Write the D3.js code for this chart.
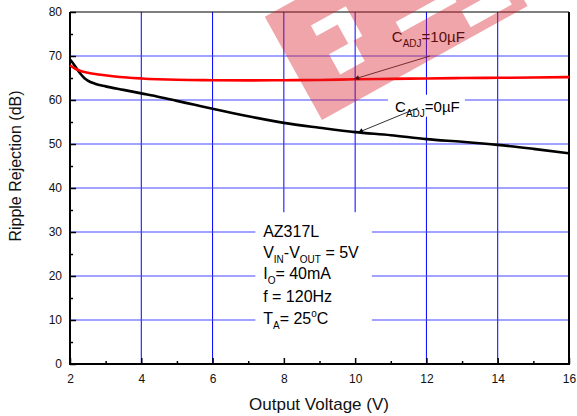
<!DOCTYPE html>
<html><head><meta charset="utf-8">
<script src="https://cdn.jsdelivr.net/npm/d3@7"></script>
<style>
body{margin:0;background:#fff}
svg text{font-family:"Liberation Sans",Arial,Helvetica,sans-serif;white-space:pre}
</style>
</head><body>
<svg id="chart" width="577" height="416"></svg>
<script>
// ---- data ----
const xTickValues = [2, 4, 6, 8, 10, 12, 14, 16];
const xMinorValues = [3, 5, 7, 9, 11, 13, 15];
const yTickValues = [0, 10, 20, 30, 40, 50, 60, 70, 80];
const yMinorValues = [5, 15, 25, 35, 45, 55, 65, 75];

// C_ADJ = 10uF (red)
const vout10 = [2, 2.15, 2.3, 2.5, 2.8, 3.2, 3.6, 4, 5, 6, 7, 8, 9, 10, 11, 12, 13, 14, 15, 16];
const rej10  = [67.9, 67.1, 66.6, 66.2, 65.8, 65.4, 65.1, 64.9, 64.6, 64.5, 64.45, 64.5, 64.55, 64.7, 64.8, 64.9, 65.0, 65.05, 65.1, 65.2];
// C_ADJ = 0uF (black)
const vout0 = [2, 2.1, 2.2, 2.3, 2.4, 2.5, 2.7, 3, 3.5, 4, 4.5, 5, 5.5, 6, 7, 8, 9, 10, 11, 12, 13, 14, 15, 16];
const rej0  = [69.2, 68.2, 67.0, 65.9, 65.0, 64.4, 63.7, 63.1, 62.3, 61.5, 60.7, 59.8, 58.9, 58.0, 56.3, 54.8, 53.7, 52.7, 52.0, 51.1, 50.5, 49.8, 48.9, 47.9];

// ---- layout ----
const L = 70, R = 569, T = 12, B = 364;
const svg = d3.select("#chart");
const x = d3.scaleLinear().domain([2, 16]).range([L, R]);
const y = d3.scaleLinear().domain([0, 80]).range([B, T]);

// grid
const grid = svg.append("g");
grid.selectAll("line.v").data(xTickValues.slice(1, -1)).join("line")
  .attr("x1", d => x(d)).attr("x2", d => x(d)).attr("y1", T).attr("y2", B)
  .attr("stroke", "#0000ff").attr("stroke-width", 1);
grid.selectAll("line.h").data(yTickValues.slice(1, -1)).join("line")
  .attr("x1", L).attr("x2", R).attr("y1", d => y(d)).attr("y2", d => y(d))
  .attr("stroke", "#4646ff").attr("stroke-width", 1.2);

// white boxes behind annotations
function whiteBox(x0, x1, y0, y1) {
  svg.append("rect").attr("x", x(x0)).attr("y", y(y1))
    .attr("width", x(x1) - x(x0)).attr("height", y(y0) - y(y1)).attr("fill", "#fff");
}
whiteBox(7.2, 10.47, -5.3, 34.5);   // info box
whiteBox(10.92, 13.08, 56.2, 61.2); // 0uF label

// axes ticks
const fs = 12;
svg.append("g").attr("transform", `translate(0,${B})`)
  .call(d3.axisBottom(x).tickValues(xTickValues).tickSizeInner(-6).tickSizeOuter(0).tickPadding(10).tickFormat(d3.format("d")));
svg.append("g").attr("transform", `translate(0,${B})`)
  .call(d3.axisBottom(x).tickValues(xMinorValues).tickSizeInner(-3).tickSizeOuter(0).tickFormat(""));
svg.append("g").attr("transform", `translate(${L},0)`)
  .call(d3.axisLeft(y).tickValues(yTickValues).tickSizeInner(-6).tickSizeOuter(0).tickPadding(8).tickFormat(d3.format("d")));
svg.append("g").attr("transform", `translate(${L},0)`)
  .call(d3.axisLeft(y).tickValues(yMinorValues).tickSizeInner(-3).tickSizeOuter(0).tickFormat(""));
svg.selectAll(".domain").remove();
svg.selectAll(".tick line").attr("stroke", "#000").attr("stroke-width", 1.5);
svg.selectAll(".tick text").attr("font-size", fs).attr("fill", "#111")
  .style("font-family", '"Liberation Sans",Arial,sans-serif');

// frame
svg.append("line").attr("x1", L).attr("x2", R).attr("y1", T).attr("y2", T).attr("stroke", "#000").attr("stroke-width", 1);
svg.append("line").attr("x1", R).attr("x2", R).attr("y1", T).attr("y2", B).attr("stroke", "#000").attr("stroke-width", 2);
svg.append("line").attr("x1", L).attr("x2", L).attr("y1", T).attr("y2", B + 1).attr("stroke", "#000").attr("stroke-width", 2);
svg.append("line").attr("x1", L - 1).attr("x2", R + 1).attr("y1", B).attr("y2", B).attr("stroke", "#000").attr("stroke-width", 2);

// curves
const line = d3.line().x(d => x(d[0])).y(d => y(d[1])).curve(d3.curveMonotoneX);
svg.append("path").datum(d3.zip(vout0, rej0)).attr("d", line)
  .attr("fill", "none").attr("stroke", "#000").attr("stroke-width", 2.6);
svg.append("path").datum(d3.zip(vout10, rej10)).attr("d", line)
  .attr("fill", "none").attr("stroke", "#ff0000").attr("stroke-width", 2.6);

// arrows
const defs = svg.append("defs");
defs.append("marker").attr("id", "ah").attr("viewBox", "0 0 10 10").attr("refX", 10).attr("refY", 5)
  .attr("markerWidth", 7).attr("markerHeight", 5).attr("orient", "auto").attr("markerUnits", "userSpaceOnUse")
  .append("path").attr("d", "M0,0 L10,5 L0,10 z").attr("fill", "#000");
function arrow(x0, y0, x1, y1) {
  svg.append("line").attr("x1", x(x0)).attr("y1", y(y0)).attr("x2", x(x1)).attr("y2", y(y1))
    .attr("stroke", "#000").attr("stroke-width", 0.8).attr("marker-end", "url(#ah)");
}
arrow(12.1, 70.0, 9.97, 64.75);
arrow(11.76, 58.2, 10.08, 52.6);

// labels with subscripts
function label(px, py, parts, size) {
  const t = svg.append("text").attr("x", px).attr("y", py).attr("font-size", size).attr("fill", "#000");
  let cur = 0;
  parts.forEach(p => {
    const off = p.sub ? 5 : (p.sup ? -7 : 0);
    t.append("tspan").attr("dy", off - cur).attr("font-size", (p.sub || p.sup) ? 10 : size).text(p.t);
    cur = off;
  });
  return t;
}
label(x(11.03), y(73.2), [{t: "C"}, {t: "ADJ", sub: 1}, {t: "=10\u00b5F"}], 15);
label(x(11.12), y(57.3), [{t: "C"}, {t: "ADJ", sub: 1}, {t: "=0\u00b5F"}], 15);

const infoX = x(7.42);
const infoFs = 16;
label(infoX, y(28.9), [{t: "AZ317L"}], infoFs);
label(infoX, y(24.1), [{t: "V"}, {t: "IN", sub: 1}, {t: "-V"}, {t: "OUT", sub: 1}, {t: " = 5V"}], infoFs);
label(infoX, y(19.3), [{t: "I"}, {t: "O", sub: 1}, {t: "= 40mA"}], infoFs);
label(infoX, y(14.1), [{t: "f = 120Hz"}], infoFs);
label(infoX, y(9.1), [{t: "T"}, {t: "A", sub: 1}, {t: "= 25"}, {t: "o", sup: 1}, {t: "C"}], infoFs);

// axis titles
svg.append("text").attr("transform", `translate(21,166) rotate(-90)`).attr("text-anchor", "middle")
  .attr("font-size", 16).attr("fill", "#111").text("Ripple Rejection (dB)");
svg.append("text").attr("x", 319).attr("y", 410).attr("text-anchor", "middle")
  .attr("font-size", 17).attr("fill", "#111").text("Output Voltage (V)");

// watermark (semi-transparent logo drawn over the chart), in its own rotated frame
const holes = [[36, 76, 76, 88], [60, 76, 54, 76], [38, 66, 31, 54], [112, 175, 38, 50], [175, 222, 9, 28]];
let wmPath = "M0,0H235V-118H0Z";
holes.forEach(h => { wmPath += `M${h[0]},${-h[2]}H${h[1]}V${-h[3]}H${h[0]}Z`; });
svg.append("g").attr("transform", "translate(322,120) rotate(-29)")
  .append("path").attr("d", wmPath).attr("fill-rule", "evenodd")
  .attr("fill", "rgb(214,30,40)").attr("fill-opacity", 0.4);
</script>
</body></html>
